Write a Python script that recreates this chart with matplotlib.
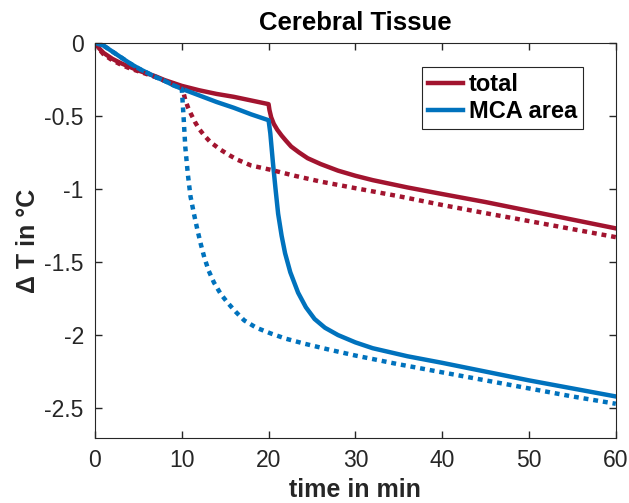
import numpy as np
import matplotlib
matplotlib.use("Agg")
import matplotlib.pyplot as plt

# total, full simulation
t_total = [0, 0.5, 1, 2, 3, 4, 5, 6, 7, 8, 9, 10, 12, 14, 16, 18, 20,
           20.1, 20.3, 20.6, 21, 21.5, 22, 22.6, 23.5, 24.5, 26, 28, 30, 32, 36, 40, 45, 50, 55, 60]
y_total = [0, -0.04, -0.07, -0.11, -0.14, -0.165, -0.19, -0.21, -0.23, -0.255, -0.275, -0.295,
           -0.325, -0.35, -0.37, -0.395, -0.42,
           -0.46, -0.51, -0.555, -0.595, -0.635, -0.67, -0.71, -0.75, -0.79, -0.83, -0.875,
           -0.91, -0.94, -0.99, -1.035, -1.09, -1.15, -1.21, -1.27]

# total, dotted variant
t_total2 = [0, 0.5, 1, 2, 3, 4, 5, 6, 7, 8, 9, 10,
            10.15, 10.4, 10.7, 11, 11.5, 12, 12.6, 13.3, 14.5, 15.5, 16.4, 18, 20.3,
            23, 26, 30, 35, 40, 45, 50, 55, 60]
y_total2 = [0, -0.045, -0.08, -0.12, -0.15, -0.175, -0.195, -0.215, -0.235, -0.26, -0.28, -0.30,
            -0.33, -0.39, -0.44, -0.48, -0.54, -0.59, -0.635, -0.68, -0.733, -0.77, -0.80,
            -0.84, -0.87, -0.91, -0.95, -0.995, -1.05, -1.11, -1.166, -1.22, -1.275, -1.33]

# MCA area, full simulation
t_mca = [0, 1, 2, 3, 4, 5, 6, 7, 8, 9, 10, 12, 14, 16, 18, 20,
         20.2, 20.5, 20.8, 21.1, 21.5, 21.9, 22.5, 23.4, 24.3, 25.3, 26.5, 28, 30, 32,
         36, 40, 45, 50, 55, 60]
y_mca = [0, -0.02, -0.06, -0.10, -0.14, -0.175, -0.205, -0.235, -0.26, -0.29, -0.315,
         -0.36, -0.405, -0.445, -0.49, -0.53,
         -0.62, -0.82, -1.0, -1.17, -1.32, -1.44, -1.57, -1.71, -1.81, -1.89, -1.95, -2.0,
         -2.05, -2.09, -2.145, -2.19, -2.25, -2.31, -2.365, -2.42]

# MCA area, dotted variant
t_mca2 = [0, 1, 2, 3, 4, 5, 6, 7, 8, 9, 10,
          10.06, 10.2, 10.4, 10.7, 11, 11.4, 11.8, 12.2, 12.6, 13.1, 13.7, 14.5, 15.3,
          16.2, 17.2, 18.6, 20.3, 22, 24.2, 27, 30, 35, 40, 45, 50, 55, 60]
y_mca2 = [0, -0.02, -0.06, -0.10, -0.14, -0.175, -0.205, -0.235, -0.26, -0.29, -0.315,
          -0.37, -0.5, -0.71, -0.9, -1.05, -1.17, -1.28, -1.38, -1.47, -1.56, -1.64,
          -1.72, -1.78, -1.84, -1.90, -1.95, -1.99, -2.025, -2.06, -2.10, -2.14, -2.20,
          -2.255, -2.31, -2.365, -2.42, -2.47]

red = "#A2142F"
blue = "#0072BD"

plt.rcParams["font.family"] = ["Liberation Sans", "DejaVu Sans"]
plt.rcParams["axes.unicode_minus"] = False

fig = plt.figure(figsize=(6.29, 5.03), dpi=100)
ax = fig.add_axes([0.151, 0.129, 0.828, 0.786])

dot = (0, (1.1, 1.1))
ax.plot(t_total, y_total, color=red, lw=3.2, label="total", solid_joinstyle="round")
ax.plot(t_mca, y_mca, color=blue, lw=3.2, label="MCA area", solid_joinstyle="round")
ax.plot(t_total2, y_total2, color=red, lw=3.2, linestyle=dot, dash_capstyle="butt")
ax.plot(t_mca2, y_mca2, color=blue, lw=3.2, linestyle=dot, dash_capstyle="butt")

ax.set_xlim(0, 60)
ax.set_ylim(-2.705, 0)
ax.set_xticks([0, 10, 20, 30, 40, 50, 60])
ax.set_yticks([0, -0.5, -1, -1.5, -2, -2.5])
ax.set_yticklabels(["0", "-0.5", "-1", "-1.5", "-2", "-2.5"])

ax.tick_params(direction="in", length=5, width=1, top=True, right=True,
               labelsize=16.5, labelcolor="#262626", color="#262626", pad=8)
for s in ax.spines.values():
    s.set_color("#262626")
    s.set_linewidth(0.8)

ax.set_title("Cerebral Tissue", fontsize=18.5, fontweight="bold", pad=9)
ax.set_xlabel("time in min", fontsize=18, fontweight="bold", labelpad=4, color="#262626")
ax.set_ylabel("Δ T in °C", fontsize=18, fontweight="bold", labelpad=3, color="#262626")

leg = ax.legend(loc="upper right", bbox_to_anchor=(0.937, 0.939), borderaxespad=0,
                fancybox=False, edgecolor="#262626", framealpha=1,
                prop={"size": 17, "weight": "bold"}, handlelength=1.5,
                handletextpad=0.25, labelspacing=0.2, borderpad=0.25)
leg.get_frame().set_linewidth(0.8)

fig.savefig("out.png", dpi=100)
